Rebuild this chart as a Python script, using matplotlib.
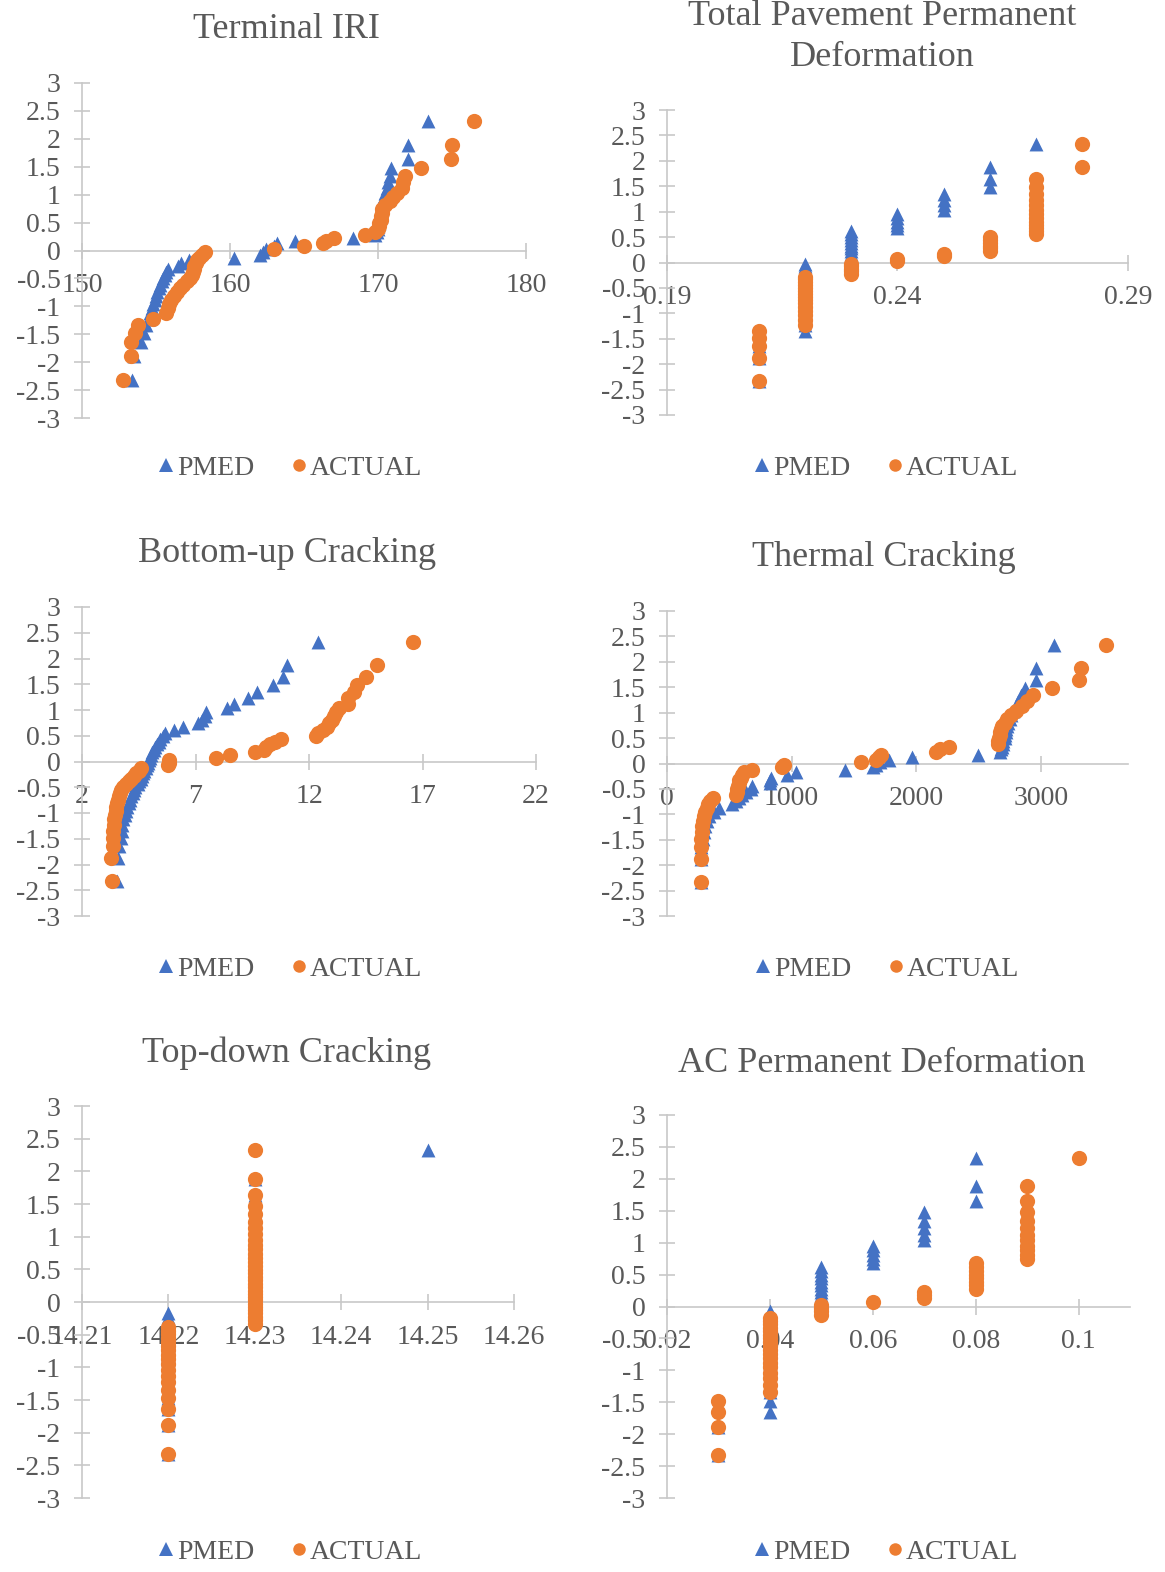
import matplotlib
matplotlib.use("Agg")
import matplotlib.pyplot as plt
from matplotlib.lines import Line2D
from matplotlib.ticker import FuncFormatter
import numpy as np

plt.rcParams['font.family'] = ['Liberation Serif', 'DejaVu Serif']
plt.rcParams['axes.unicode_minus'] = False

W, H = 1165, 1572
BLUE = '#4472C4'
ORANGE = '#ED7D31'
TEXT = '#595959'
AXIS = '#C8C8C8'

# normal scores (y of every series, 50 ranks)
normal_score = [-2.326, -1.881, -1.645, -1.476, -1.341, -1.227, -1.126, -1.036, -0.954, -0.878,
                -0.806, -0.739, -0.674, -0.613, -0.553, -0.496, -0.440, -0.385, -0.332, -0.279,
                -0.228, -0.176, -0.126, -0.075, -0.025, 0.025, 0.075, 0.126, 0.176, 0.228,
                0.279, 0.332, 0.385, 0.440, 0.496, 0.553, 0.613, 0.674, 0.739, 0.806,
                0.878, 0.954, 1.036, 1.126, 1.227, 1.341, 1.476, 1.645, 1.881, 2.326]

# Terminal IRI
iri_pmed = [153.4, 153.5, 154.0, 154.2, 154.3, 154.5, 154.6, 154.7, 154.8, 154.9,
            155.0, 155.1, 155.2, 155.3, 155.4, 155.5, 155.6, 155.7, 155.8, 156.5,
            156.7, 157.2, 160.3, 162.0, 162.2, 162.4, 163.0, 163.2, 164.4, 168.3,
            169.8, 169.9, 170.0, 170.0, 170.1, 170.1, 170.2, 170.2, 170.2, 170.3,
            170.3, 170.4, 170.5, 170.6, 170.7, 170.8, 170.9, 172.0, 172.0, 173.4]
iri_actual = [152.8, 153.3, 153.3, 153.6, 153.8, 154.8, 155.7, 155.8, 155.9, 156.0,
              156.2, 156.4, 156.6, 156.8, 157.1, 157.3, 157.4, 157.5, 157.6, 157.6,
              157.7, 157.8, 157.9, 158.1, 158.3, 163.0, 165.0, 166.3, 166.5, 167.0,
              169.1, 169.8, 170.0, 170.1, 170.1, 170.2, 170.2, 170.3, 170.3, 170.5,
              170.8, 171.0, 171.3, 171.6, 171.7, 171.8, 172.9, 174.9, 175.0, 176.5]

# Total pavement permanent deformation
tppd_pmed = [0.21]*4 + [0.22]*21 + [0.23]*12 + [0.24]*5 + [0.25]*4 + [0.26]*3 + [0.27]*1
tppd_actual = [0.21]*5 + [0.22]*15 + [0.23]*5 + [0.24]*2 + [0.25]*2 + [0.26]*6 + [0.27]*13 + [0.28]*2

# Bottom-up cracking
bu_pmed = [3.54, 3.57, 3.65, 3.70, 3.75, 3.78, 3.82, 3.90, 3.93, 4.00,
           4.05, 4.10, 4.17, 4.25, 4.30, 4.35, 4.45, 4.50, 4.58, 4.64,
           4.70, 4.75, 4.80, 4.85, 4.92, 4.95, 5.00, 5.05, 5.10, 5.15,
           5.22, 5.30, 5.40, 5.45, 5.55, 5.65, 6.05, 6.45, 7.10, 7.30,
           7.40, 7.45, 8.40, 8.70, 9.30, 9.70, 10.40, 10.85, 11.05, 12.40]
bu_actual = [3.30, 3.27, 3.35, 3.35, 3.38, 3.42, 3.43, 3.45, 3.48, 3.50,
             3.54, 3.58, 3.62, 3.66, 3.72, 3.82, 3.93, 4.05, 4.17, 4.30,
             4.40, 4.50, 4.62, 5.80, 5.85, 5.85, 7.90, 8.50, 9.60, 10.00,
             10.10, 10.30, 10.50, 10.75, 12.30, 12.40, 12.60, 12.80, 12.90, 13.00,
             13.10, 13.20, 13.30, 13.70, 13.70, 14.00, 14.10, 14.50, 15.00, 16.60]

# Thermal cracking
tc_pmed = [270, 270, 276, 285, 294, 306, 321, 336, 375, 414,
           525, 555, 576, 600, 636, 675, 684, 825, 825, 834,
           960, 1035, 1425, 1650, 1680, 1710, 1785, 1965, 2495, 2670,
           2680, 2690, 2700, 2700, 2710, 2710, 2720, 2720, 2730, 2740,
           2750, 2760, 2780, 2800, 2820, 2840, 2870, 2960, 2960, 3110]
tc_actual = [270, 270, 273, 276, 279, 282, 285, 294, 303, 318,
             333, 348, 370, 555, 560, 565, 570, 575, 580, 590,
             600, 615, 680, 920, 940, 1560, 1680, 1700, 1720, 2160,
             2190, 2265, 2660, 2660, 2665, 2670, 2675, 2680, 2690, 2710,
             2730, 2760, 2800, 2850, 2890, 2940, 3090, 3310, 3320, 3520]

# Top-down cracking
td_pmed = [14.22]*22 + [14.23]*27 + [14.25]*1
td_actual = [14.22]*18 + [14.23]*32

# AC permanent deformation
ac_pmed = [0.03]*2 + [0.04]*22 + [0.05]*13 + [0.06]*5 + [0.07]*5 + [0.08]*3
ac_actual = [0.03]*4 + [0.04]*18 + [0.05]*4 + [0.06]*1 + [0.07]*3 + [0.08]*8 + [0.09]*11 + [0.10]*1

fig = plt.figure(figsize=(W/100, H/100), dpi=100)


def px_axes(x0, x1, ytop, ybot):
    return fig.add_axes([x0/W, 1 - ybot/H, (x1 - x0)/W, (ybot - ytop)/H])


def draw_panel(ax, pmed, actual, xlim, xticks):
    ax.scatter(pmed, normal_score, marker='^', s=100, color=BLUE, linewidths=0, zorder=3)
    ax.scatter(actual, normal_score, marker='o', s=120, color=ORANGE, linewidths=0, zorder=4)
    ax.set_xlim(*xlim)
    ax.set_ylim(-3, 3)
    ax.set_xticks(xticks)
    ax.set_yticks(np.arange(-3, 3.01, 0.5))
    fmt = FuncFormatter(lambda v, p: '{:g}'.format(round(v, 4)))
    ax.xaxis.set_major_formatter(fmt)
    ax.yaxis.set_major_formatter(fmt)
    for s in ['top', 'right']:
        ax.spines[s].set_visible(False)
    ax.spines['bottom'].set_position(('data', 0))
    for s in ['left', 'bottom']:
        ax.spines[s].set_color(AXIS)
        ax.spines[s].set_linewidth(1.2)
    ax.tick_params(axis='both', direction='inout', length=11, width=1.2,
                   color=AXIS, labelcolor=TEXT, labelsize=20)
    ax.tick_params(axis='x', pad=11)
    ax.tick_params(axis='y', pad=10)
    ax.patch.set_alpha(0)
    for lab in ax.get_xticklabels() + ax.get_yticklabels():
        lab.set_clip_on(False)


def add_legend(ax, cx, cy):
    handles = [Line2D([], [], marker='^', ls='', color=BLUE, markersize=10, markeredgewidth=0),
               Line2D([], [], marker='o', ls='', color=ORANGE, markersize=9, markeredgewidth=0)]
    ax.legend(handles, ['PMED', 'ACTUAL'], loc='center', bbox_to_anchor=(cx/W, 1 - cy/H),
              bbox_transform=fig.transFigure, ncol=2, frameon=False, fontsize=20,
              labelcolor=TEXT, handlelength=0.6, handletextpad=0.1, columnspacing=1.3)


def add_title(text, cx, cy):
    fig.text(cx/W, 1 - cy/H, text, ha='center', va='center', fontsize=26,
             color=TEXT, linespacing=1.3)


ax1 = px_axes(82, 526, 83, 418)
draw_panel(ax1, iri_pmed, iri_actual, (150, 180), [150, 160, 170, 180])
add_title('Terminal IRI', 286, 29)
add_legend(ax1, 290, 468)

ax2 = px_axes(667, 1128, 110, 415)
draw_panel(ax2, tppd_pmed, tppd_actual, (0.19, 0.29), [0.19, 0.24, 0.29])
add_title('Total Pavement Permanent\nDeformation', 882, 37)
add_legend(ax2, 886, 468)

ax3 = px_axes(82, 536, 607, 916)
draw_panel(ax3, bu_pmed, bu_actual, (2, 22), [2, 7, 12, 17, 22])
add_title('Bottom-up Cracking', 287, 553)
add_legend(ax3, 290, 969)

ax4 = px_axes(667, 1128, 611, 916)
draw_panel(ax4, tc_pmed, tc_actual, (0, 3700), [0, 1000, 2000, 3000])
add_title('Thermal Cracking', 884, 557)
add_legend(ax4, 887, 969)

ax5 = px_axes(82, 514, 1106, 1498)
draw_panel(ax5, td_pmed, td_actual, (14.21, 14.26), [14.21, 14.22, 14.23, 14.24, 14.25, 14.26])
add_title('Top-down Cracking', 287, 1053)
add_legend(ax5, 290, 1552)

ax6 = px_axes(667, 1130, 1115, 1498)
draw_panel(ax6, ac_pmed, ac_actual, (0.02, 0.11), [0.02, 0.04, 0.06, 0.08, 0.1])
add_title('AC Permanent Deformation', 882, 1063)
add_legend(ax6, 886, 1552)

fig.savefig('out.png', dpi=100, facecolor='white')
